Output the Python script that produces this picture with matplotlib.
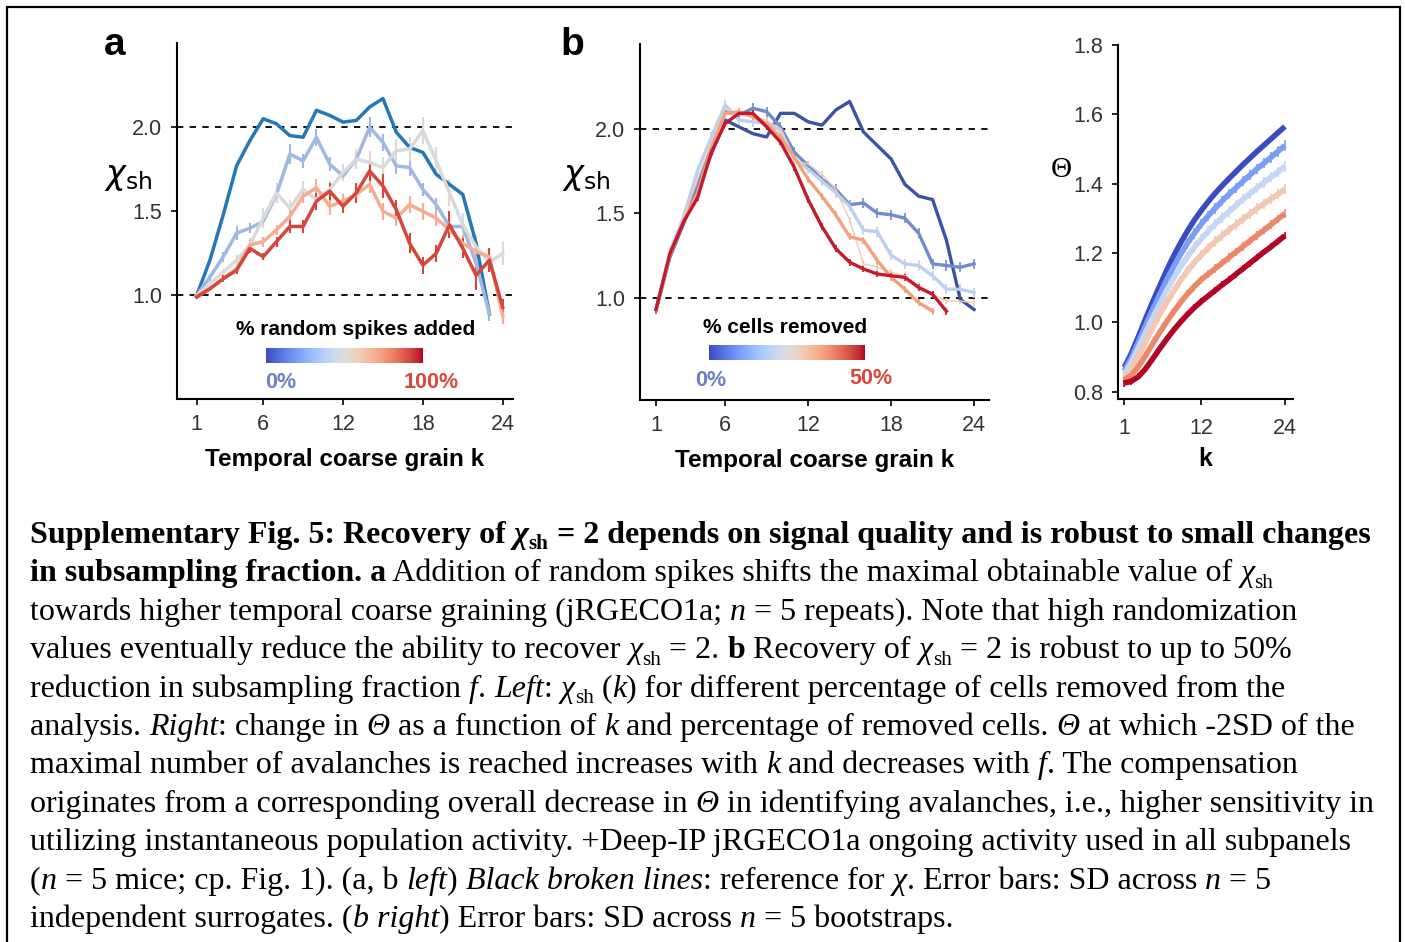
import matplotlib
matplotlib.use('Agg')
import matplotlib.pyplot as plt
import numpy as np
from matplotlib.patches import Rectangle
from matplotlib.font_manager import FontProperties

W, H, DPI = 1405, 942, 100
SANS = ['Liberation Sans', 'DejaVu Sans']
SERIF = ['Liberation Serif', 'DejaVu Serif']

# ---- panel a: chi_sh(k), random spikes added (0% ... 100%)
k_a = list(range(1, 25))
a_spk0 = [1.00, 1.21, 1.48, 1.77, 1.92, 2.05, 2.02, 1.95, 1.94, 2.10, 2.07, 2.03,
          2.04, 2.12, 2.17, 1.97, 1.88, 1.85, 1.72, 1.66, 1.60, 1.31, 0.89]
a_spk1 = [1.00, 1.11, 1.23, 1.37, 1.40, 1.44, 1.60, 1.84, 1.80, 1.94, 1.78, 1.71,
          1.81, 2.00, 1.91, 1.77, 1.76, 1.63, 1.54, 1.41, 1.41, 1.19, 0.89]
a_spk2 = [1.00, 1.07, 1.14, 1.21, 1.30, 1.46, 1.61, 1.52, 1.63, 1.57, 1.63, 1.73,
          1.81, 1.79, 1.76, 1.86, 1.87, 1.98, 1.80, 1.61, 1.42, 1.29, 1.20, 1.25]
a_spk3 = [1.00, 1.04, 1.10, 1.16, 1.30, 1.32, 1.39, 1.47, 1.59, 1.64, 1.53, 1.56,
          1.60, 1.66, 1.50, 1.46, 1.54, 1.50, 1.46, 1.39, 1.31, 1.26, 1.23, 0.88]
a_spk4 = [0.99, 1.04, 1.10, 1.15, 1.28, 1.23, 1.32, 1.41, 1.41, 1.56, 1.62, 1.53,
          1.61, 1.74, 1.65, 1.51, 1.31, 1.18, 1.25, 1.42, 1.28, 1.12, 1.21, 0.93]
a_err1 = [0, .02, .03, .04, .03, .04, .05, .06, .04, .05, .04, .03, .05, .06, .05, .05,
          .05, .04, .04, .04, .03, .05, .04]
a_err2 = [0, .02, .02, .03, .04, .06, .06, .05, .05, .05, .05, .05, .06, .07, .06, .07,
          .07, .08, .08, .08, .07, .07, .06, .07]
a_err3 = [0, .01, .02, .02, .03, .03, .03, .04, .04, .05, .05, .04, .05, .05, .05, .05,
          .05, .05, .05, .05, .05, .06, .05, .05]
a_err4 = [0, .01, .02, .02, .03, .02, .03, .04, .04, .05, .05, .04, .06, .06, .07, .06,
          .06, .05, .05, .08, .06, .09, .07, .05]
a_colors = ['#2677b6', '#9fb9e3', '#dadada', '#f5ad8f', '#d6463a']

# ---- panel b left: chi_sh(k), cells removed (0% ... 50%)
k_b = list(range(1, 25))
b_rm0 = [0.93, 1.24, 1.44, 1.64, 1.85, 2.05, 2.01, 1.97, 1.95, 2.09, 2.09, 2.04,
         2.02, 2.11, 2.16, 1.98, 1.90, 1.82, 1.67, 1.60, 1.58, 1.34, 0.99, 0.93]
b_rm1 = [0.93, 1.25, 1.46, 1.66, 1.90, 2.10, 2.08, 2.12, 2.10, 2.01, 1.86, 1.78,
         1.70, 1.64, 1.55, 1.56, 1.50, 1.49, 1.47, 1.38, 1.20, 1.19, 1.18, 1.20]
b_rm2 = [0.93, 1.27, 1.48, 1.75, 1.95, 2.14, 2.05, 2.04, 2.03, 1.99, 1.82, 1.76,
         1.69, 1.62, 1.54, 1.40, 1.39, 1.25, 1.20, 1.19, 1.13, 1.05, 1.05, 1.03]
b_rm3 = [0.93, 1.26, 1.47, 1.70, 1.92, 2.12, 2.08, 2.07, 2.05, 2.00, 1.81, 1.79,
         1.73, 1.64, 1.46, 1.20, 1.18, 1.15, 1.13, 1.07, 1.02, 0.98, 0.98, 0.97]
b_rm4 = [0.93, 1.25, 1.45, 1.62, 1.88, 2.09, 2.10, 2.07, 2.03, 1.95, 1.83, 1.70,
         1.60, 1.49, 1.36, 1.34, 1.22, 1.12, 1.05, 0.97, 0.92]
b_rm5 = [0.93, 1.26, 1.45, 1.59, 1.86, 2.03, 2.09, 2.09, 2.01, 1.92, 1.77, 1.58,
         1.42, 1.29, 1.21, 1.17, 1.14, 1.13, 1.12, 1.06, 1.02, 0.92]
b_err = [0.0, 0.03, 0.03, 0.02, 0.02, 0.02]
b_colors = ['#3c52a6', '#6f8ccb', '#bccfee', '#f0cbb5', '#f4a07b', '#c41a2d']
b_widths = [2.4, 2.4, 2.4, 1.0, 2.4, 2.4]

# ---- panel b right: Theta(k), cells removed (0% ... 50%)
k_c = list(range(1, 25))
c_rm0 = [0.870, 0.910, 0.958, 1.008, 1.056, 1.102, 1.147, 1.189, 1.227, 1.262, 1.294, 1.322,
         1.348, 1.372, 1.394, 1.415, 1.435, 1.455, 1.474, 1.493, 1.511, 1.529, 1.547, 1.565]
c_rm1 = [0.860, 0.897, 0.942, 0.989, 1.034, 1.077, 1.119, 1.158, 1.194, 1.227, 1.256, 1.283,
         1.307, 1.329, 1.350, 1.370, 1.388, 1.407, 1.425, 1.443, 1.459, 1.476, 1.493, 1.510]
c_rm2 = [0.850, 0.885, 0.926, 0.969, 1.011, 1.050, 1.089, 1.125, 1.158, 1.188, 1.216, 1.240,
         1.263, 1.283, 1.302, 1.320, 1.338, 1.355, 1.371, 1.388, 1.403, 1.419, 1.434, 1.450]
c_rm3 = [0.840, 0.865, 0.902, 0.942, 0.982, 1.020, 1.055, 1.088, 1.119, 1.147, 1.172, 1.194,
         1.214, 1.233, 1.250, 1.267, 1.282, 1.298, 1.313, 1.328, 1.342, 1.356, 1.370, 1.384]
c_rm4 = [0.835, 0.847, 0.872, 0.903, 0.936, 0.969, 1.000, 1.029, 1.056, 1.081, 1.103, 1.123,
         1.139, 1.155, 1.171, 1.187, 1.203, 1.219, 1.235, 1.251, 1.266, 1.282, 1.298, 1.314]
c_rm5 = [0.825, 0.830, 0.843, 0.865, 0.893, 0.922, 0.950, 0.976, 1.000, 1.022, 1.042, 1.060,
         1.076, 1.092, 1.108, 1.123, 1.139, 1.155, 1.171, 1.187, 1.203, 1.218, 1.234, 1.250]
c_err = [0.0, 0.015, 0.015, 0.015, 0.012, 0.010]
c_colors = ['#3b4cc0', '#7a9df8', '#c5d7f5', '#f3c7b1', '#ee8669', '#b40426']

caption = [
    [('b', 'Supplementary Fig. 5: Recovery of '), ('bi', 'χ'), ('sb', 'sh'),
     ('b', ' = 2 depends on signal quality and is robust to small changes')],
    [('b', 'in subsampling fraction. a'),
     ('r', ' Addition of random spikes shifts the maximal obtainable value of '), ('i', 'χ'), ('s', 'sh')],
    [('r', 'towards higher temporal coarse graining (jRGECO1a; '), ('i', 'n'),
     ('r', ' = 5 repeats). Note that high randomization')],
    [('r', 'values eventually reduce the ability to recover '), ('i', 'χ'), ('s', 'sh'), ('r', ' = 2. '),
     ('b', 'b'), ('r', ' Recovery of '), ('i', 'χ'), ('s', 'sh'), ('r', ' = 2 is robust to up to 50%')],
    [('r', 'reduction in subsampling fraction '), ('i', 'f'), ('r', '. '), ('i', 'Left'), ('r', ': '),
     ('i', 'χ'), ('s', 'sh'), ('r', ' ('), ('i', 'k'), ('r', ') for different percentage of cells removed from the')],
    [('r', 'analysis. '), ('i', 'Right'), ('r', ': change in '), ('i', 'Θ'), ('r', ' as a function of '),
     ('i', 'k'), ('r', ' and percentage of removed cells. '), ('i', 'Θ'), ('r', ' at which -2SD of the')],
    [('r', 'maximal number of avalanches is reached increases with '), ('i', 'k'),
     ('r', ' and decreases with '), ('i', 'f'), ('r', '. The compensation')],
    [('r', 'originates from a corresponding overall decrease in '), ('i', 'Θ'),
     ('r', ' in identifying avalanches, i.e., higher sensitivity in')],
    [('r', 'utilizing instantaneous population activity. +Deep-IP jRGECO1a ongoing activity used in all subpanels')],
    [('r', '('), ('i', 'n'), ('r', ' = 5 mice; cp. Fig. 1). (a, b '), ('i', 'left'), ('r', ') '),
     ('i', 'Black broken lines'), ('r', ': reference for '), ('i', 'χ'), ('r', '. Error bars: SD across '),
     ('i', 'n'), ('r', ' = 5')],
    [('r', 'independent surrogates. ('), ('i', 'b right'), ('r', ') Error bars: SD across '), ('i', 'n'),
     ('r', ' = 5 bootstraps.')],
]

plt.rcParams['font.family'] = SANS


def px_axes(fig, left, top, right, bottom):
    return fig.add_axes([left / W, 1 - bottom / H, (right - left) / W, (bottom - top) / H])


def style_axes(ax, size=15.5):
    for side in ['top', 'right']:
        ax.spines[side].set_visible(False)
    for side in ['left', 'bottom']:
        ax.spines[side].set_linewidth(1.5)
        ax.spines[side].set_color('black')
    ax.tick_params(direction='out', length=4.5, width=1.2, labelsize=size,
                   labelcolor='#333333', pad=6)


def colorbar_legend(fig, box, title, title_xy, lo, lo_xy, hi, hi_xy):
    cax = px_axes(fig, *box)
    cax.imshow(np.linspace(0, 1, 256)[None, :], aspect='auto', cmap='coolwarm')
    cax.set_axis_off()
    fig.text(title_xy[0] / W, 1 - title_xy[1] / H, title, fontsize=15, weight='bold',
             ha='center', va='center')
    fig.text(lo_xy[0] / W, 1 - lo_xy[1] / H, lo, fontsize=15.5, weight='bold', color='#6b80c6',
             ha='center', va='center')
    fig.text(hi_xy[0] / W, 1 - hi_xy[1] / H, hi, fontsize=15.5, weight='bold', color='#d9483b',
             ha='center', va='center')


fig = plt.figure(figsize=(W / DPI, H / DPI), dpi=DPI)

# ---------- panel a
ax = px_axes(fig, 176.7, 43, 512.7, 399)
a_series = [a_spk0, a_spk1, a_spk2, a_spk3, a_spk4]
a_errs = [None, a_err1, a_err2, a_err3, a_err4]
for vals, err, col in zip(a_series, a_errs, a_colors):
    ax.errorbar(k_a[:len(vals)], vals, yerr=err, color=col, lw=2.5, elinewidth=1.5, capsize=0)
for ref in [1.0, 2.0]:
    ax.axhline(ref, color='black', ls=(0, (3.5, 3.5)), lw=1.3, zorder=0)
ax.set_xlim(-0.5, 24.75)
ax.set_ylim(0.385, 2.5)
ax.set_xticks([1, 6, 12, 18, 24])
ax.set_yticks([1.0, 1.5, 2.0])
ax.set_yticklabels(['1.0', '1.5', '2.0'])
style_axes(ax)
ax.set_xlabel('Temporal coarse grain k', fontsize=17.5, weight='bold', labelpad=10)
fig.text(104 / W, 1 - 184 / H, r'$\chi_{\mathrm{sh}}$', fontsize=24, va='baseline')
fig.text(104 / W, 1 - 55 / H, 'a', fontsize=28, weight='bold', va='baseline')
colorbar_legend(fig, (266, 348, 423, 363), '% random spikes added', (356, 330),
                '0%', (281, 382), '100%', (431, 382))

# ---------- panel b left
ax = px_axes(fig, 640, 44, 989, 400)
b_series = [b_rm0, b_rm1, b_rm2, b_rm3, b_rm4, b_rm5]
for vals, err, col, lw in zip(b_series, b_err, b_colors, b_widths):
    ax.errorbar(k_b[:len(vals)], vals, yerr=err if err else None, color=col, lw=lw,
                elinewidth=1.2, capsize=0)
for ref in [1.0, 2.0]:
    ax.axhline(ref, color='black', ls=(0, (3.5, 3.5)), lw=1.3, zorder=0)
ax.set_xlim(-0.16, 25.08)
ax.set_ylim(0.395, 2.5)
ax.set_xticks([1, 6, 12, 18, 24])
ax.set_yticks([1.0, 1.5, 2.0])
ax.set_yticklabels(['1.0', '1.5', '2.0'])
style_axes(ax)
ax.set_xlabel('Temporal coarse grain k', fontsize=17.5, weight='bold', labelpad=10)
fig.text(562 / W, 1 - 184 / H, r'$\chi_{\mathrm{sh}}$', fontsize=24, va='baseline')
fig.text(560 / W, 1 - 55 / H, 'b', fontsize=28, weight='bold', va='baseline')
colorbar_legend(fig, (709, 345, 865, 360), '% cells removed', (785, 328),
                '0%', (711, 381), '50%', (871, 379))

# ---------- panel b right
ax = px_axes(fig, 1118, 45, 1293.3, 399)
c_series = [c_rm0, c_rm1, c_rm2, c_rm3, c_rm4, c_rm5]
for vals, err, col in zip(c_series, c_err, c_colors):
    ax.errorbar(k_c, vals, yerr=err if err else None, color=col, lw=4, elinewidth=1.2,
                capsize=0, solid_capstyle='butt')
ax.set_xlim(0.1, 25.2)
ax.set_ylim(0.779, 1.8)
ax.set_xticks([1, 12, 24])
ax.set_yticks([0.8, 1.0, 1.2, 1.4, 1.6, 1.8])
ax.set_yticklabels(['0.8', '1.0', '1.2', '1.4', '1.6', '1.8'])
style_axes(ax)
ax.tick_params(axis='x', pad=9)
ax.set_xlabel('k', fontsize=18, weight='bold', labelpad=6)
fig.text(1061 / W, 1 - 170 / H, 'Θ', fontsize=21, family=SERIF, ha='center', va='center')

# ---------- caption
renderer = fig.canvas.get_renderer()
run_styles = {
    'r': ('normal', 'normal', 1.0, 0.0),
    'b': ('normal', 'bold', 1.0, 0.0),
    'i': ('italic', 'normal', 1.0, 0.0),
    'bi': ('italic', 'bold', 1.0, 0.0),
    's': ('normal', 'normal', 0.66, -0.2),
    'sb': ('normal', 'bold', 0.66, -0.2),
}
cap_size = 23.0
for i, runs in enumerate(caption):
    x = 30.0
    base = H - (543 + 38.4 * i)
    for st, s in runs:
        fstyle, fweight, scale, shift = run_styles[st]
        prop = FontProperties(family=SERIF, style=fstyle, weight=fweight, size=cap_size * scale)
        y = base + shift * cap_size * DPI / 72
        fig.text(x / W, y / H, s, fontproperties=prop, ha='left', va='baseline')
        w_full = renderer.get_text_width_height_descent('x' + s + 'x', prop, ismath=False)[0]
        w_pad = renderer.get_text_width_height_descent('xx', prop, ismath=False)[0]
        x += w_full - w_pad

# frame around the whole figure
fig.patches.append(Rectangle((7 / W, -0.02), (1400 - 7) / W, 1.02 - 7 / H, transform=fig.transFigure,
                             fill=False, lw=1.6, ec='black'))

fig.savefig('out.png', dpi=DPI)
